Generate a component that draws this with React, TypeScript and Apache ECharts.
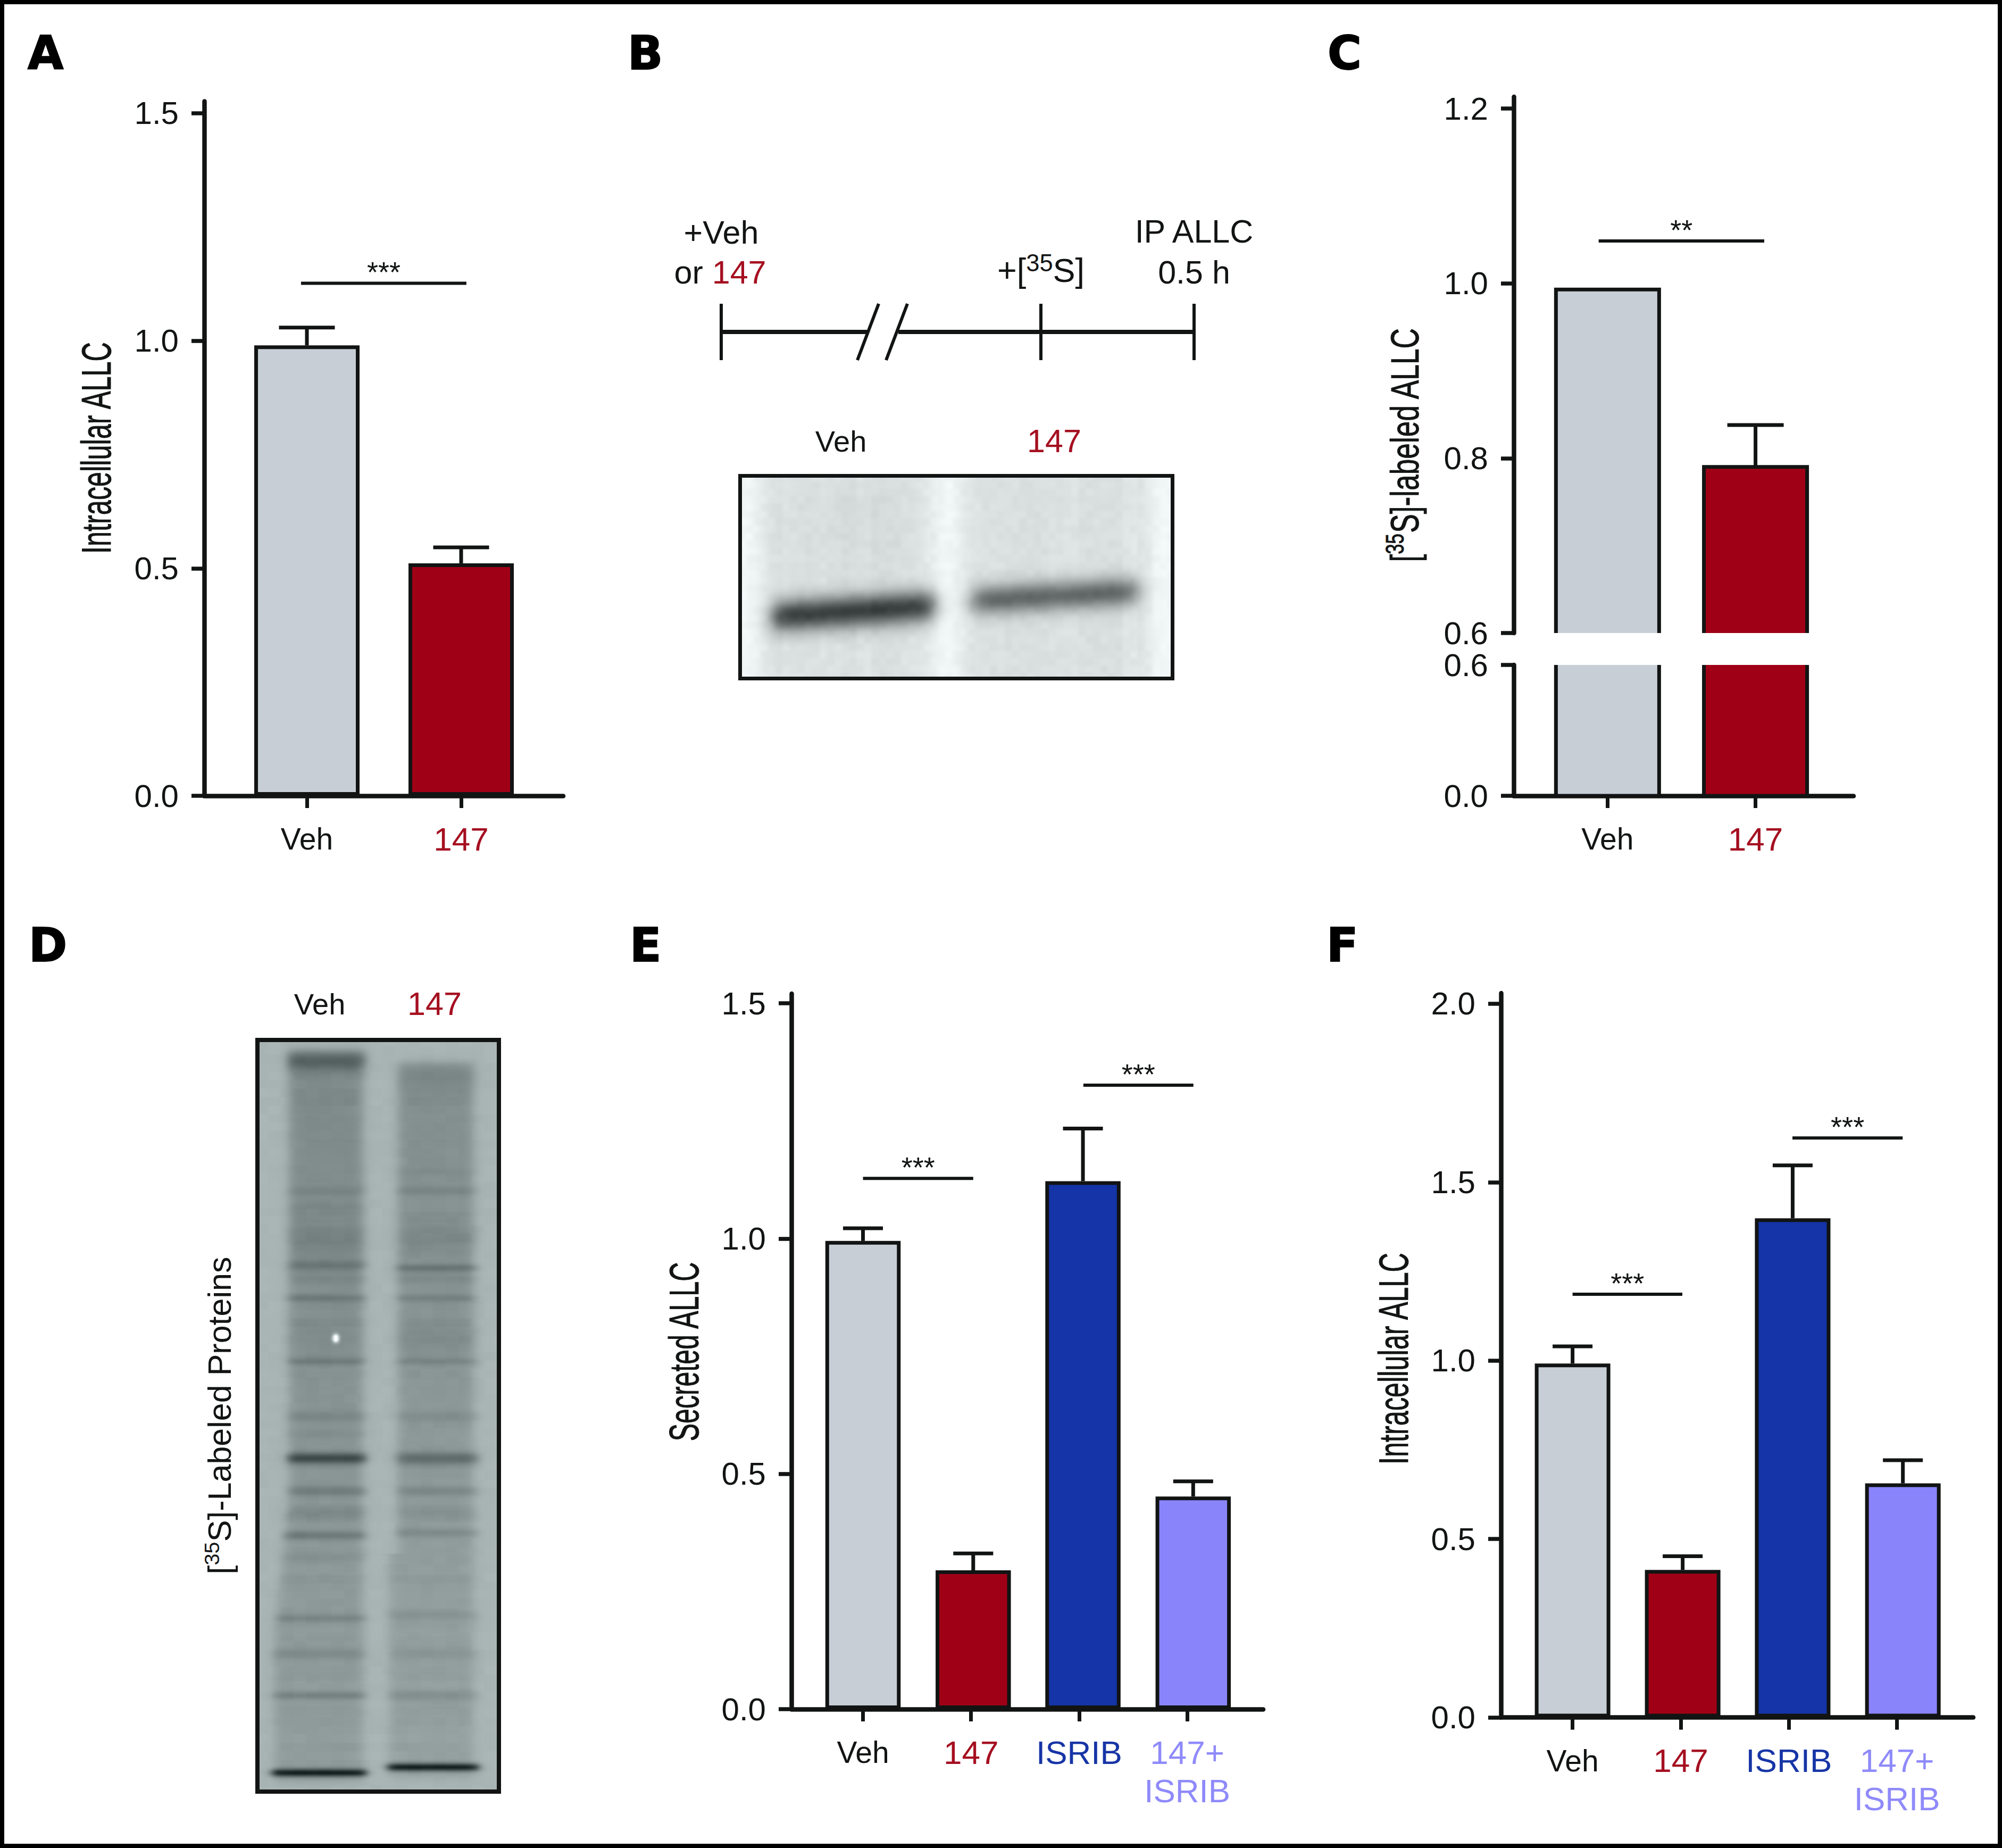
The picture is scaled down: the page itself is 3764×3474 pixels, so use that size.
import React, { useEffect, useRef } from "react";
import * as echarts from "echarts";

// ---------- data ----------
const categoriesTwo = ["Veh", "147"];
const categoriesFour = ["Veh", "147", "ISRIB", "147+\nISRIB"];

const valuesA = [0.99, 0.511];
const errorTopA = [1.029, 0.546];
const sigA = [[-0.038, 1.034, 1.1265]];
const starsA = ["***"];
const ticksA = [0, 0.5, 1, 1.5];

const valuesC = [0.993, 0.79];
const errorTopC = [null, 0.838];
const sigC = [[-0.06, 1.059, 1.0486]];
const starsC = ["**"];
const ticksCUpper = [0.6, 0.8, 1.0, 1.2];
const ticksCLower = [0, 0.6];

const valuesE = [0.995, 0.295, 1.122, 0.452];
const errorTopE = [1.022, 0.331, 1.234, 0.484];
const sigE = [[0, 1.02, 1.128], [2.039, 3.057, 1.326]];
const starsE = ["***", "***"];
const ticksE = [0, 0.5, 1, 1.5];

const valuesF = [0.992, 0.4135, 1.399, 0.656];
const errorTopF = [1.04, 0.452, 1.547, 0.721];
const sigF = [[0, 1.015, 1.186], [2.033, 3.052, 1.624]];
const starsF = ["***", "***"];
const ticksF = [0, 0.5, 1, 1.5, 2];

// ---------- styles ----------
const INK = "#121414";
const GREY = "#c7ced6";
const RED = "#a00016";
const BLUE = "#1434a8";
const LILAC = "#8a84fa";
const LABEL_RED = "#a50f20";
const LABEL_BLUE = "#1735a6";
const LABEL_LILAC = "#8f8afa";
const SANS = "'Liberation Sans', Arial, sans-serif";
const BORDER = 7;

const fills = [GREY, RED, BLUE, LILAC];
const labelColors = [INK, LABEL_RED, LABEL_BLUE, LABEL_LILAC];

// ---------- axis helpers ----------
const makeXAxis = (gridIndex: number, min: number, max: number, cats: string[], visible = true) => {
  const ticks = cats.map((_, i) => i);
  return {
    type: "value",
    gridIndex,
    min,
    max,
    show: visible,
    splitLine: { show: false },
    axisLine: { show: true, onZero: false, lineStyle: { color: INK, width: 8.5 } },
    axisTick: { show: true, customValues: ticks, length: 23, lineStyle: { color: INK, width: 7 } },
    axisLabel: {
      show: true,
      customValues: ticks,
      margin: 45,
      fontFamily: SANS,
      fontSize: 62,
      lineHeight: 72,
      color: (v: any) => labelColors[Number(v)],
      formatter: (v: any) => (Number(v) === 0 ? `{narrow|${cats[0]}}` : cats[Number(v)]),
      rich: { narrow: { fontFamily: SANS, fontSize: 57, lineHeight: 72 } },
    },
  };
};

const makeYAxis = (gridIndex: number, min: number, max: number, ticks: number[]) => ({
  type: "value",
  gridIndex,
  min,
  max,
  splitLine: { show: false },
  axisLine: { show: true, onZero: false, lineStyle: { color: INK, width: 8.5 } },
  axisTick: { show: true, customValues: ticks, length: 24, lineStyle: { color: INK, width: 7.5 } },
  axisLabel: {
    show: true,
    customValues: ticks,
    margin: 48,
    fontFamily: SANS,
    fontSize: 60,
    lineHeight: 56,
    color: INK,
    formatter: (v: any) => Number(v).toFixed(1),
  },
});

const barSeries = (axis: number, slots: number[], values: number[], width: number) => ({
  type: "bar",
  xAxisIndex: axis,
  yAxisIndex: axis,
  barWidth: width,
  itemStyle: { borderColor: INK, borderWidth: BORDER },
  z: 2,
  data: slots.map((p, i) => ({ value: [p, values[i]], itemStyle: { color: fills[i] } })),
});

const errorSeries = (axis: number, slots: number[], values: number[], tops: (number | null)[], cap: number) => ({
  type: "custom",
  xAxisIndex: axis,
  yAxisIndex: axis,
  z: 3,
  encode: { x: 0, y: [1, 2] },
  data: slots
    .map((p, i) => [p, values[i], tops[i]])
    .filter((r) => r[2] !== null),
  renderItem: (_: any, api: any) => {
    const a = api.coord([api.value(0), api.value(1)]);
    const b = api.coord([api.value(0), api.value(2)]);
    const style = { stroke: INK, lineWidth: 7, fill: "none" };
    return {
      type: "group",
      children: [
        { type: "line", shape: { x1: a[0], y1: a[1], x2: b[0], y2: b[1] }, style },
        { type: "line", shape: { x1: b[0] - cap / 2, y1: b[1], x2: b[0] + cap / 2, y2: b[1] }, style },
      ],
    };
  },
});

const sigSeries = (axis: number, rows: number[][], stars: string[]) => ({
  type: "custom",
  xAxisIndex: axis,
  yAxisIndex: axis,
  z: 4,
  encode: { x: [0, 1], y: 2 },
  data: rows,
  renderItem: (params: any, api: any) => {
    const a = api.coord([api.value(0), api.value(2)]);
    const b = api.coord([api.value(1), api.value(2)]);
    return {
      type: "group",
      children: [
        { type: "line", shape: { x1: a[0], y1: a[1], x2: b[0], y2: b[1] }, style: { stroke: INK, lineWidth: 6 } },
        {
          type: "text",
          x: (a[0] + b[0]) / 2,
          y: a[1] - 21,
          style: {
            text: stars[params.dataIndex],
            fontFamily: SANS,
            fontSize: 54,
            fill: INK,
            textAlign: "center",
            textVerticalAlign: "middle",
          },
        },
      ],
    };
  },
});

// Broken bars of panel C: drawn in two grids with the open side at the axis break.
const brokenBars = (axis: number, slots: number[], values: number[], floor: number, ceil: number, openTop: boolean, width: number) => ({
  type: "custom",
  xAxisIndex: axis,
  yAxisIndex: axis,
  z: 2,
  encode: { x: 0, y: [1, 2] },
  data: slots.map((p, i) => [p, Math.min(values[i], ceil), floor]),
  renderItem: (params: any, api: any) => {
    const t = api.coord([api.value(0), api.value(1)]);
    const b = api.coord([api.value(0), api.value(2)]);
    const l = t[0] - width / 2;
    const r = t[0] + width / 2;
    const points = openTop
      ? [[l, t[1]], [l, b[1]], [r, b[1]], [r, t[1]]]
      : [[l, b[1]], [l, t[1]], [r, t[1]], [r, b[1]]];
    return {
      type: "group",
      children: [
        { type: "rect", shape: { x: l, y: t[1], width, height: b[1] - t[1] }, style: { fill: fills[params.dataIndex] } },
        { type: "polyline", shape: { points }, style: { stroke: INK, lineWidth: BORDER, fill: "none" } },
      ],
    };
  },
});

// ---------- gel pictures ----------
const logistic = (t: number) => 1 / (1 + Math.exp(-t));
const box = (x: number, a: number, b: number, s: number) => logistic((x - a) / s) * logistic((b - x) / s);
const gauss = (x: number, c: number, s: number) => Math.exp((-(x - c) * (x - c)) / (2 * s * s));
const grain = (x: number, y: number) => {
  const v = Math.sin(x * 12.9898 + y * 78.233) * 43758.5453;
  return v - Math.floor(v);
};

function paintGel(w: number, h: number, cell: number, shade: (x: number, y: number) => number[]) {
  const lw = Math.ceil(w / cell);
  const lh = Math.ceil(h / cell);
  const low = document.createElement("canvas");
  low.width = lw;
  low.height = lh;
  const lc = low.getContext("2d")!;
  const img = lc.createImageData(lw, lh);
  for (let j = 0; j < lh; j++) {
    for (let i = 0; i < lw; i++) {
      const c = shade(i * cell, j * cell);
      const k = (j * lw + i) * 4;
      img.data[k] = c[0];
      img.data[k + 1] = c[1];
      img.data[k + 2] = c[2];
      img.data[k + 3] = 255;
    }
  }
  lc.putImageData(img, 0, 0);
  const out = document.createElement("canvas");
  out.width = w;
  out.height = h;
  const oc = out.getContext("2d")!;
  oc.imageSmoothingEnabled = true;
  oc.imageSmoothingQuality = "high";
  oc.drawImage(low, 0, 0, w, h);
  return out.toDataURL("image/png");
}

function allcGel() {
  return paintGel(820, 388, 7, (x, y) => {
    let v = 222;
    v += (grain(Math.floor(x / 14), Math.floor(y / 14)) - 0.5) * 7;
    v += (grain(Math.floor(x / 28), 3) - 0.5) * 5;
    v -= 7 * box(x, 90, 330, 30) * box(y, 30, 150, 30);
    v += 24 * gauss(x, 392, 26);
    v += 26 * logistic((38 - x) / 12);
    v += 24 * logistic((x - 775) / 14);
    const y1 = 268 - ((x - 52) * 21) / 322;
    v -= 162 * box(x, 62, 368, 9) * gauss(y, y1, 22);
    const y2 = 238 - ((x - 433) * 19) / 330;
    v -= 120 * box(x, 440, 752, 9) * gauss(y, y2, 20);
    const s = Math.max(0, Math.min(255, v));
    return [s - 3, s + 2, s + 2];
  });
}

const leftLaneBands = [
  [205, 44, 13], [440, 9, 7], [470, 8, 7], [525, 14, 15], [575, 24, 7], [600, 8, 7],
  [635, 22, 5], [700, 6, 20], [750, 22, 5], [850, 14, 7], [882, 8, 6], [925, 76, 7], [985, 22, 7],
  [1025, 13, 9], [1065, 30, 6], [1105, 8, 6], [1215, 20, 5], [1280, 14, 7], [1355, 24, 5], [1495, 130, 5],
];
const rightLaneBands = [
  [235, 8, 18], [405, 6, 6], [440, 12, 6], [525, 12, 15], [580, 28, 5], [600, 10, 6], [635, 18, 5],
  [705, 10, 18], [750, 16, 5], [850, 12, 7], [925, 44, 8], [985, 16, 7], [1025, 8, 9], [1060, 18, 6],
  [1210, 10, 6], [1280, 8, 7], [1355, 14, 7], [1485, 130, 5],
];

function proteinGel() {
  const sy = 1.0395;
  return paintGel(462, 1421, 4, (x, y) => {
    const z = y / sy + 165;
    let v = 175 + (grain(Math.floor(x / 24), Math.floor(y / 16)) - 0.5) * 4;
    const depth = Math.min(1, Math.max(0, (z - 185) / 1300));
    const laneTone = 45 - 21 * depth;
    const streak = (grain(7, Math.floor(z / 16)) - 0.5) * 5;
    const leftEdge = z < 1000 ? 62 : z < 1250 ? 62 - ((z - 1000) * 28) / 250 : 34;
    const rightEdgeStart = z < 1100 ? 268 : 252;
    const mL = box(x, leftEdge, 201, 6) * logistic((z - 188) / 5) * logistic((1512 - z) / 5);
    const mR = box(x, rightEdgeStart, 409, 6) * logistic((z - 208) / 5) * logistic((1505 - z) / 5);
    v -= mL * (laneTone + streak);
    v -= mR * (laneTone - 4 + streak);
    for (const b of leftLaneBands) v -= box(x, leftEdge - 4, 208, 5) * b[1] * gauss(z, b[0], b[2]);
    for (const b of rightLaneBands) v -= box(x, rightEdgeStart - 4, 420, 5) * b[1] * gauss(z, b[0], b[2]);
    v += 190 * gauss(x, 150, 4) * gauss(y, 564, 5);
    const s = Math.max(0, Math.min(255, v));
    return [s - 6, s + 6, s + 5];
  });
}

// ---------- free-standing texts and drawings ----------
const panelLetter = (text: string, x: number, y: number) => ({
  type: "text",
  x,
  y,
  style: {
    text,
    fontFamily: "'DejaVu Sans', sans-serif",
    fontWeight: "bold",
    fontSize: 87,
    fill: "#000",
    stroke: "#000",
    lineWidth: 2,
    textAlign: "left",
    textVerticalAlign: "middle",
  },
});

const plainText = (text: string, x: number, y: number, fill = INK, fontSize = 61) => ({
  type: "text",
  x,
  y,
  style: { text, fontFamily: SANS, fontSize, fill, textAlign: "center", textVerticalAlign: "middle" },
});

const richText = (text: string, x: number, y: number, rich: any, extra: any = {}) => ({
  type: "text",
  x,
  y,
  ...extra,
  style: { text, rich, fontFamily: SANS, fontSize: 56, fill: INK, textAlign: "center", textVerticalAlign: "middle" },
});

const axisTitle = (text: string, x: number, y: number, fontSize: number, scaleX: number) => ({
  type: "text",
  x,
  y,
  rotation: Math.PI / 2,
  scaleX,
  style: { text, fontFamily: SANS, fontSize, fill: INK, stroke: INK, lineWidth: 1, textAlign: "center", textVerticalAlign: "middle" },
});

const seg = (x1: number, y1: number, x2: number, y2: number, lineWidth: number) => ({
  type: "line",
  shape: { x1, y1, x2, y2 },
  style: { stroke: INK, lineWidth },
});

export default function App() {
  const ref = useRef<HTMLDivElement>(null);

  useEffect(() => {
    document.body.style.margin = "0";
    const chart = echarts.init(ref.current!, undefined, { renderer: "svg" });

    const slotsTwo = [0, 1];
    const slotsE = [0, 1.02, 2.035, 3.055];
    const slotsF = [0, 1.018, 2.035, 3.054];

    const supRich = (size: number, ratio = 0.65, heavy = false) => ({
      a: { fontFamily: SANS, fontSize: size, fill: INK, lineHeight: size * 1.15, ...(heavy ? { stroke: INK, lineWidth: 1 } : {}) },
      s: { fontFamily: SANS, fontSize: size * ratio, fill: INK, verticalAlign: "top", lineHeight: size * 1.15, ...(heavy ? { stroke: INK, lineWidth: 1 } : {}) },
    });

    chart.setOption({
      animation: false,
      backgroundColor: "#ffffff",
      grid: [
        { left: 384, top: 190.5, width: 675, height: 1305.5 }, // A
        { left: 2846, top: 182, width: 639, height: 1008 }, // C upper
        { left: 2846, top: 1250, width: 639, height: 246 }, // C lower
        { left: 1488, top: 1868, width: 887, height: 1345 }, // E
        { left: 2822, top: 1867, width: 888, height: 1361.6 }, // F
      ],
      xAxis: [
        makeXAxis(0, -0.6655, 1.662, categoriesTwo),
        makeXAxis(1, -0.634, 1.663, categoriesTwo, false),
        makeXAxis(2, -0.634, 1.663, categoriesTwo),
        makeXAxis(3, -0.662, 3.703, categoriesFour),
        makeXAxis(4, -0.662, 3.705, categoriesFour),
      ],
      yAxis: [
        makeYAxis(0, 0, 1.5263, ticksA),
        makeYAxis(1, 0.6, 1.2135, ticksCUpper),
        makeYAxis(2, 0, 0.6, ticksCLower),
        makeYAxis(3, 0, 1.5205, ticksE),
        makeYAxis(4, 0, 2.0298, ticksF),
      ],
      series: [
        barSeries(0, slotsTwo, valuesA, 198),
        errorSeries(0, slotsTwo, valuesA, errorTopA, 105),
        sigSeries(0, sigA, starsA),

        brokenBars(1, slotsTwo, valuesC, 0.6, 2, false, 194),
        errorSeries(1, slotsTwo, valuesC, errorTopC, 106),
        sigSeries(1, sigC, starsC),
        brokenBars(2, slotsTwo, valuesC, 0, 0.6, true, 194),

        barSeries(3, slotsE, valuesE, 141.5),
        errorSeries(3, slotsE, valuesE, errorTopE, 75),
        sigSeries(3, sigE, starsE),

        barSeries(4, slotsF, valuesF, 142),
        errorSeries(4, slotsF, valuesF, errorTopF, 75),
        sigSeries(4, sigF, starsF),
      ],
      graphic: {
        elements: [
          { type: "rect", shape: { x: 4, y: 4, width: 3756, height: 3466 }, style: { stroke: "#000", lineWidth: 8, fill: "none" } },

          panelLetter("A", 52, 100),
          panelLetter("B", 1180, 100),
          panelLetter("C", 2496, 100),
          panelLetter("D", 54, 1777),
          panelLetter("E", 1184, 1777),
          panelLetter("F", 2494, 1777),

          axisTitle("Intracellular ALLC", 181, 842, 77, 0.655),
          axisTitle("Secreted ALLC", 1286, 2541, 77, 0.65),
          axisTitle("Intracellular ALLC", 2620, 2554, 77, 0.655),
          richText("{a|[}{s|35}{a|S]-labeled ALLC}", 2641, 836, supRich(75, 0.65, true), { rotation: Math.PI / 2, scaleX: 0.71 }),
          richText("{a|[}{s|35}{a|S]-Labeled Proteins}", 413, 2661, supRich(61), { rotation: Math.PI / 2 }),

          // Panel B: protocol timeline
          plainText("+Veh", 1356, 437),
          richText("{a|or }{r|147}", 1354, 512, {
            a: { fontFamily: SANS, fontSize: 61, fill: INK },
            r: { fontFamily: SANS, fontSize: 61, fill: LABEL_RED },
          }),
          richText("{a|+[}{s|35}{a|S]}", 1957, 508, supRich(63, 0.72)),
          plainText("IP ALLC", 2245, 435),
          plainText("0.5 h", 2245, 512),
          seg(1356, 571, 1356, 677, 6),
          seg(1957, 571, 1957, 677, 6),
          seg(2245, 571, 2245, 677, 6),
          seg(1356, 624, 1630, 624, 8),
          seg(1689, 624, 2245, 624, 8),
          seg(1652, 571, 1612, 677, 6),
          seg(1706, 571, 1666, 677, 6),

          // Panel B: gel
          plainText("Veh", 1581, 829, INK, 56),
          plainText("147", 1982, 829, LABEL_RED),
          { type: "image", style: { image: allcGel(), x: 1388, y: 891, width: 820, height: 388 } },
          { type: "rect", shape: { x: 1391.5, y: 894.5, width: 813, height: 381 }, style: { stroke: INK, lineWidth: 7, fill: "none" } },

          // Panel D: gel
          plainText("Veh", 601, 1887, INK, 56),
          plainText("147", 817, 1887, LABEL_RED),
          { type: "image", style: { image: proteinGel(), x: 480, y: 1951, width: 462, height: 1421 } },
          { type: "rect", shape: { x: 484, y: 1955, width: 454, height: 1413 }, style: { stroke: INK, lineWidth: 8, fill: "none" } },
        ],
      },
    });

    return () => chart.dispose();
  }, []);

  return <div ref={ref} style={{ position: "fixed", left: 0, top: 0, width: 3764, height: 3474 }} />;
}
